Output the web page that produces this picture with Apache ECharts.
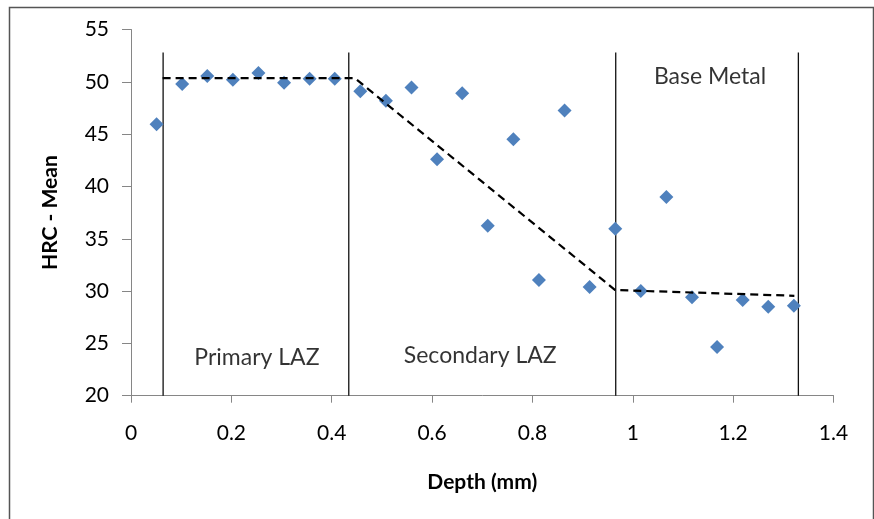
<!DOCTYPE html>
<html>
<head>
<meta charset="utf-8">
<title>HRC vs Depth</title>
<script src="https://cdn.jsdelivr.net/npm/echarts@6/dist/echarts.min.js"></script>
<style>
  html, body { margin: 0; padding: 0; background: #fff; }
  #chart { width: 874px; height: 519px; }
</style>
</head>
<body>
<div id="chart"></div>
<script>
// Hardness measurements (HRC mean) at increasing depth below the surface
const depthMm = [0.051, 0.102, 0.152, 0.203, 0.254, 0.305, 0.356, 0.406, 0.457, 0.508,
                 0.559, 0.610, 0.660, 0.711, 0.762, 0.813, 0.864, 0.914, 0.965, 1.016,
                 1.067, 1.118, 1.168, 1.219, 1.270, 1.321];
const hrcMean = [45.95, 49.8, 50.55, 50.2, 50.85, 49.9, 50.3, 50.3, 49.1, 48.2,
                 49.45, 42.6, 48.9, 36.25, 44.5, 31.05, 47.25, 30.4, 35.95, 30.0,
                 39.0, 29.4, 24.65, 29.15, 28.5, 28.6];

// Piecewise trend through the three zones
const trendDepth = [0.063, 0.446, 0.965, 1.322];
const trendHrc = [50.35, 50.35, 30.1, 29.55];

// Zone boundaries (depth, mm) and the height the divider lines reach
const zoneBounds = [0.064, 0.434, 0.966, 1.330];
const zoneTop = 52.8;

// Zone captions placed in data coordinates
const zoneNames = ['Primary LAZ', 'Secondary LAZ', 'Base Metal'];
const zoneNameDepth = [0.251, 0.696, 1.154];
const zoneNameHrc = [23.6, 23.8, 50.5];

const xTicks = { min: 0, max: 1.4, interval: 0.2 };
const yTicks = { min: 20, max: 55, interval: 5 };

const FONT = 'Lato';
const chart = echarts.init(document.getElementById('chart'), null, { renderer: 'canvas' });

const series = [];

// divider lines between zones
zoneBounds.forEach(function (x, i) {
  series.push({
    name: 'zone' + i,
    type: 'line',
    data: [[x, yTicks.min], [x, zoneTop]],
    symbol: 'none',
    silent: true,
    z: 2,
    lineStyle: { color: '#111', width: 1.3 }
  });
});

series.push({
  name: 'HRC - Mean',
  type: 'scatter',
  data: depthMm.map(function (d, i) { return [d, hrcMean[i]]; }),
  symbol: 'diamond',
  symbolSize: [14, 14],
  itemStyle: { color: '#4F81BD', opacity: 1 },
  z: 3
});

series.push({
  name: 'Trend',
  type: 'line',
  data: trendDepth.map(function (d, i) { return [d, trendHrc[i]]; }),
  symbol: 'none',
  z: 4,
  lineStyle: { color: '#000', width: 2.2, type: [8, 5] }
});

series.push({
  name: 'Zones',
  type: 'scatter',
  data: zoneNames.map(function (n, i) { return { value: [zoneNameDepth[i], zoneNameHrc[i]], name: n }; }),
  symbolSize: 0,
  silent: true,
  z: 5,
  label: {
    show: true,
    position: 'inside',
    formatter: '{b}',
    fontFamily: FONT,
    fontSize: 23,
    color: '#000'
  }
});

chart.setOption({
  animation: false,
  backgroundColor: '#fff',
  graphic: [{
    type: 'rect',
    left: 7, top: 5,
    shape: { width: 864, height: 530 },
    style: { fill: 'none', stroke: '#555', lineWidth: 1.5 },
    silent: true,
    z: -1
  }],
  grid: { left: 131, right: 40.5, top: 29.5, bottom: 123.3, containLabel: false },
  xAxis: {
    type: 'value',
    min: xTicks.min, max: xTicks.max, interval: xTicks.interval,
    name: 'Depth (mm)',
    nameLocation: 'middle',
    nameGap: 76,
    nameTextStyle: { fontFamily: FONT, fontSize: 21, fontWeight: 'bold', color: '#000' },
    axisLine: { show: true, lineStyle: { color: '#868686', width: 1 } },
    axisTick: { show: true, inside: false, length: 7, lineStyle: { color: '#868686' } },
    axisLabel: { fontFamily: FONT, fontSize: 21, color: '#000', margin: 27 },
    splitLine: { show: false }
  },
  yAxis: {
    type: 'value',
    min: yTicks.min, max: yTicks.max, interval: yTicks.interval,
    name: 'HRC - Mean',
    nameLocation: 'middle',
    nameGap: 70,
    nameTextStyle: { fontFamily: FONT, fontSize: 21, fontWeight: 'bold', color: '#000' },
    axisLine: { show: true, lineStyle: { color: '#868686', width: 1 } },
    axisTick: { show: true, inside: false, length: 9, lineStyle: { color: '#868686' } },
    axisLabel: { fontFamily: FONT, fontSize: 21, color: '#000', margin: 22 },
    splitLine: { show: false }
  },
  series: series
});
</script>
</body>
</html>
